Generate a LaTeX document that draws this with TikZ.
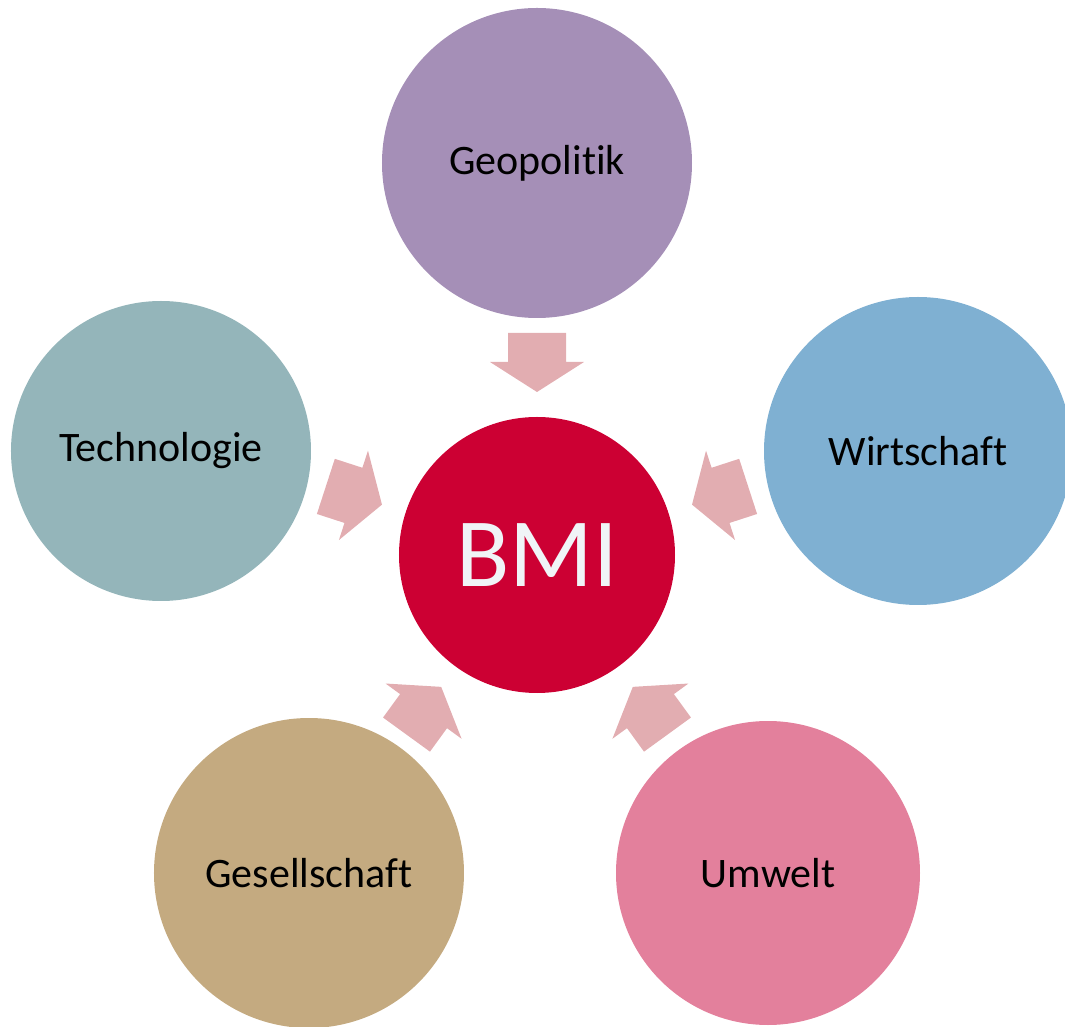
\documentclass[tikz,border=0pt]{standalone}
\usepackage{fontspec}
\setmainfont[Ligatures={NoCommon}]{Carlito}
\definecolor{geoC}{HTML}{A58FB7}
\definecolor{techC}{HTML}{94B5BA}
\definecolor{wirtC}{HTML}{7FB0D2}
\definecolor{gesC}{HTML}{C4AA80}
\definecolor{umwC}{HTML}{E3809C}
\definecolor{bmiC}{HTML}{CC0033}
\definecolor{arrC}{HTML}{E2ADB1}
\definecolor{bmiText}{HTML}{F0F4F7}
\begin{document}
\begin{tikzpicture}[x=1pt,y=1pt,
  outer/.style={circle,inner sep=0pt,minimum size=#1,text=black,
     font=\fontsize{42}{50}\selectfont},
  blockarrow/.style={fill=arrC,draw=none}]
\useasboundingbox (-537,-472) rectangle (528,555);
\clip (-537,-472) rectangle (528,555);
% outer circles
\node[outer=310,fill=geoC]  (geo)  at (0,392)     {Geopolitik};
\node[outer=300,fill=techC] (tech) at (-376,104)  {Technologie};
\node[outer=308,fill=wirtC] (wirt) at (381,104)   {Wirtschaft};
\node[outer=310,fill=gesC]  (ges)  at (-228,-318) {Gesellschaft};
\node[outer=304,fill=umwC]  (umw)  at (231,-318)  {Umwelt};
% centre
\node[circle,inner sep=0pt,minimum size=276,fill=bmiC,text=bmiText,
  font=\fontsize{98}{110}\selectfont] (bmi) at (0,0) {BMI};
% block arrows pointing to the centre
\foreach \a/\n in {90/ag,18/aw,-54/au,-126/as,162/at}{
  \begin{scope}[rotate=\a]
    \fill[blockarrow] (163,0) coordinate (\n) -- (193,47) -- (193,29) -- (222,29)
      -- (222,-29) -- (193,-29) -- (193,-47) -- cycle;
  \end{scope}
}
\end{tikzpicture}
\end{document}
